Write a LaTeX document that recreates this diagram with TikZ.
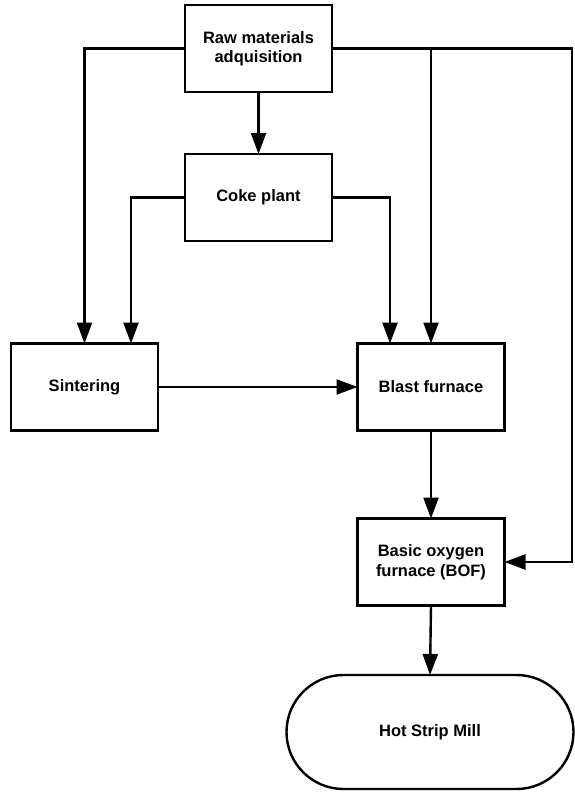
\documentclass[tikz,border=0pt]{standalone}
\usepackage{fontspec}
\setmainfont{Liberation Sans}
\usetikzlibrary{arrows.meta,shapes.misc}
\begin{document}
\begin{tikzpicture}[x=1bp,y=-1bp,
  box/.style={draw,line width=2.4bp,minimum width=147bp,minimum height=87bp,
    inner sep=0pt,outer sep=0pt,align=center,
    font=\fontsize{16.5bp}{19.5bp}\selectfont\bfseries},
  terminal/.style={box,rounded rectangle,minimum width=287bp,minimum height=114bp},
  flow/.style={line width=2.4bp,-{Triangle[length=21bp,width=15bp]}}]
\useasboundingbox (0,0) rectangle (575,793);

% process blocks
\node[box] (raw)  at (258.5,48.5) {Raw materials\\adquisition};
\node[box] (coke) at (258.5,197.5) {Coke plant};
\node[box] (sint) at (84.5,387) {Sintering};
\node[box] (bf)   at (431,387) {Blast furnace};
\node[box] (bof)  at (431,562) {Basic oxygen\\furnace (BOF)};
\node[terminal] (hsm) at (430,732) {Hot Strip Mill};

% routing point on the right-hand feed line
\coordinate (rr) at (572,0 |- raw.east);

% raw materials feeds
\draw[flow] (raw.west) -| (sint.north);
\draw[flow] (raw.south) -- (coke.north);
\draw[flow] (raw.east) -| (bf.north);
\draw[flow] (raw.east) -| (rr) |- (bof.east);

% coke plant feeds
\draw[flow] (coke.west) -| ([xshift=46.5bp]sint.north);
\draw[flow] (coke.east) -| ([xshift=-41bp]bf.north);

% main line
\draw[flow] (sint.east) -- (bf.west);
\draw[flow] (bf.south) -- (bof.north);
\draw[flow] (bof.south) -- (hsm.north);
\end{tikzpicture}
\end{document}
